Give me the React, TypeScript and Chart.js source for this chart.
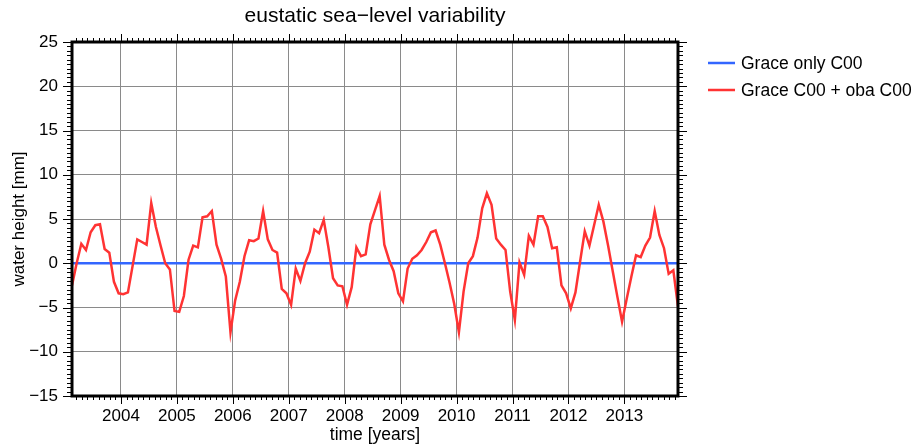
import React, { useEffect, useRef } from "react";
import { Chart, registerables } from "chart.js";

Chart.register(...registerables);

// monthly GRACE series, February 2003 .. December 2013 (mid-month)
const FIRST_YEAR = 2003;
const FIRST_MONTH = 2;

const yearTicks = [2004, 2005, 2006, 2007, 2008, 2009, 2010, 2011, 2012, 2013];
const heightTicks = [-15, -10, -5, 0, 5, 10, 15, 20, 25];

const seriesNames = ["Grace only C00", "Grace C00 + oba C00"];
const seriesColors = ["#3366ff", "#ff3333"];

const graceOnlyC00 = [
  0, 0, 0, 0, 0, 0, 0, 0, 0, 0, 0, 0,
  0, 0, 0, 0, 0, 0, 0, 0, 0, 0, 0, 0,
  0, 0, 0, 0, 0, 0, 0, 0, 0, 0, 0, 0,
  0, 0, 0, 0, 0, 0, 0, 0, 0, 0, 0, 0,
  0, 0, 0, 0, 0, 0, 0, 0, 0, 0, 0, 0,
  0, 0, 0, 0, 0, 0, 0, 0, 0, 0, 0, 0,
  0, 0, 0, 0, 0, 0, 0, 0, 0, 0, 0, 0,
  0, 0, 0, 0, 0, 0, 0, 0, 0, 0, 0, 0,
  0, 0, 0, 0, 0, 0, 0, 0, 0, 0, 0, 0,
  0, 0, 0, 0, 0, 0, 0, 0, 0, 0, 0, 0,
  0, 0, 0, 0, 0, 0, 0, 0, 0, 0, 0,
];

const graceObaC00 = [
  -2.5, 0.0, 2.2, 1.5, 3.5, 4.3, 4.4, 1.6, 1.2, -2.1, -3.4,
  -3.5, -3.3, -0.3, 2.7, 2.4, 2.1, 6.8, 4.1, 2.0, 0.0, -0.7, -5.4,
  -5.5, -3.7, 0.4, 2.0, 1.8, 5.2, 5.3, 5.9, 2.1, 0.5, -1.5, -7.8,
  -4.2, -2.1, 0.8, 2.6, 2.5, 2.8, 5.9, 2.7, 1.5, 1.2, -2.9, -3.4,
  -4.7, -0.6, -2.0, 0.0, 1.3, 3.8, 3.4, 4.9, 1.8, -1.7, -2.5, -2.6,
  -4.7, -2.7, 1.8, 0.8, 1.0, 4.4, 6.0, 7.6, 2.1, 0.4, -0.9, -3.4,
  -4.3, -0.6, 0.5, 0.9, 1.5, 2.4, 3.5, 3.7, 2.1, 0.0, -2.2, -4.6,
  -7.8, -3.2, 0.0, 0.8, 2.9, 6.2, 7.9, 6.6, 2.8, 2.1, 1.5, -3.2,
  -6.4, 0.1, -1.3, 3.1, 2.1, 5.3, 5.3, 4.1, 1.7, 1.8, -2.5, -3.4,
  -5.1, -3.3, 0.2, 3.6, 2.0, 4.3, 6.6, 4.7, 2.0, -0.9, -3.8, -6.6,
  -4.0, -1.5, 0.9, 0.7, 2.0, 2.9, 5.9, 3.2, 1.7, -1.2, -0.8, -4.9,
];

const times = graceObaC00.map((_, i) => FIRST_YEAR + (FIRST_MONTH - 0.5 + i) / 12);

const FONT = "'Liberation Sans', Arial, Helvetica, sans-serif";

const framePlugin = {
  id: "frame",
  afterDraw(chart: any) {
    const { ctx, chartArea: a, scales } = chart;
    const xs = scales.x;
    const ys = scales.y;
    ctx.save();
    ctx.strokeStyle = "#000";
    ctx.lineWidth = 1;
    ctx.beginPath();
    // x ticks (top and bottom, outward)
    const k0 = Math.ceil(xs.min * 10);
    const k1 = Math.floor(xs.max * 10);
    for (let k = k0; k <= k1; k++) {
      const px = Math.round(xs.getPixelForValue(k / 10)) + 0.5;
      const major = k % 10 === 0;
      const len = major ? 8 : 4;
      ctx.moveTo(px, a.bottom);
      ctx.lineTo(px, a.bottom + len);
      ctx.moveTo(px, a.top);
      ctx.lineTo(px, a.top - len);
    }
    // y ticks (left and right, outward)
    for (let k = -30; k <= 50; k++) {
      const py = Math.round(ys.getPixelForValue(k / 2)) + 0.5;
      const major = k % 10 === 0;
      const len = major ? 9 : 5;
      ctx.moveTo(a.left, py);
      ctx.lineTo(a.left - len, py);
      ctx.moveTo(a.right, py);
      ctx.lineTo(a.right + len, py);
    }
    ctx.stroke();
    // frame
    ctx.lineWidth = 3;
    ctx.strokeRect(a.left, a.top, a.right - a.left, a.bottom - a.top);

    // title
    ctx.fillStyle = "#000";
    ctx.font = `21px ${FONT}`;
    ctx.textAlign = "center";
    ctx.textBaseline = "middle";
    ctx.fillText("eustatic sea\u2212level variability", (a.left + a.right) / 2, 16);

    // legend
    ctx.font = `17.5px ${FONT}`;
    ctx.textAlign = "left";
    const ly = [63, 90];
    seriesNames.forEach((name, i) => {
      ctx.strokeStyle = seriesColors[i];
      ctx.lineWidth = 2.5;
      ctx.beginPath();
      ctx.moveTo(708, ly[i]);
      ctx.lineTo(735, ly[i]);
      ctx.stroke();
      ctx.fillStyle = "#000";
      ctx.fillText(name, 741, ly[i] + 1);
    });
    ctx.restore();
  },
};

export default function App() {
  const ref = useRef<HTMLCanvasElement | null>(null);

  useEffect(() => {
    if (!ref.current) return;
    const chart = new Chart(ref.current, {
      type: "line",
      data: {
        datasets: [
          {
            label: seriesNames[1],
            data: times.map((t, i) => ({ x: t, y: graceObaC00[i] })),
            borderColor: seriesColors[1],
            borderWidth: 2.5,
            pointRadius: 0,
            tension: 0,
            order: 0,
          },
          {
            label: seriesNames[0],
            data: times.map((t, i) => ({ x: t, y: graceOnlyC00[i] })),
            borderColor: seriesColors[0],
            borderWidth: 2.5,
            pointRadius: 0,
            tension: 0,
            order: 1,
          },
        ],
      },
      options: {
        animation: false,
        responsive: false,
        devicePixelRatio: 1,
        layout: { padding: { top: 42, right: 238, left: 0, bottom: 0 } },
        plugins: {
          legend: { display: false },
          title: { display: false },
          tooltip: { enabled: false },
        },
        scales: {
          x: {
            type: "linear",
            min: times[0],
            max: times[times.length - 1],
            afterBuildTicks: (s: any) => {
              s.ticks = yearTicks.map((v) => ({ value: v }));
            },
            afterFit: (s: any) => {
              s.height = 50;
            },
            grid: { color: "#8a8a8a", lineWidth: 1, drawTicks: false },
            border: { display: false },
            ticks: {
              color: "#000",
              font: { family: FONT, size: 17 },
              padding: 10,
              maxRotation: 0,
              autoSkip: false,
              callback: (v: any) => String(v),
            },
            title: {
              display: true,
              text: "time [years]",
              color: "#000",
              font: { family: FONT, size: 17.5 },
              padding: { top: 0, bottom: 0 },
            },
          },
          y: {
            type: "linear",
            min: -15,
            max: 25,
            afterBuildTicks: (s: any) => {
              s.ticks = heightTicks.map((v) => ({ value: v }));
            },
            afterFit: (s: any) => {
              s.width = 72;
            },
            grid: { color: "#8a8a8a", lineWidth: 1, drawTicks: false },
            border: { display: false },
            ticks: {
              color: "#000",
              font: { family: FONT, size: 17 },
              padding: 14,
              callback: (v: any) => String(v).replace("-", "\u2212"),
            },
            title: {
              display: true,
              text: "water height [mm]",
              color: "#000",
              font: { family: FONT, size: 17 },
              padding: { top: 9, bottom: 0 },
            },
          },
        },
      },
      plugins: [framePlugin],
    });
    return () => chart.destroy();
  }, []);

  return (
    <div style={{ position: "fixed", left: 0, top: 0, width: 916, height: 446, background: "#fff" }}>
      <canvas ref={ref} width={916} height={446} style={{ width: 916, height: 446 }} />
    </div>
  );
}
